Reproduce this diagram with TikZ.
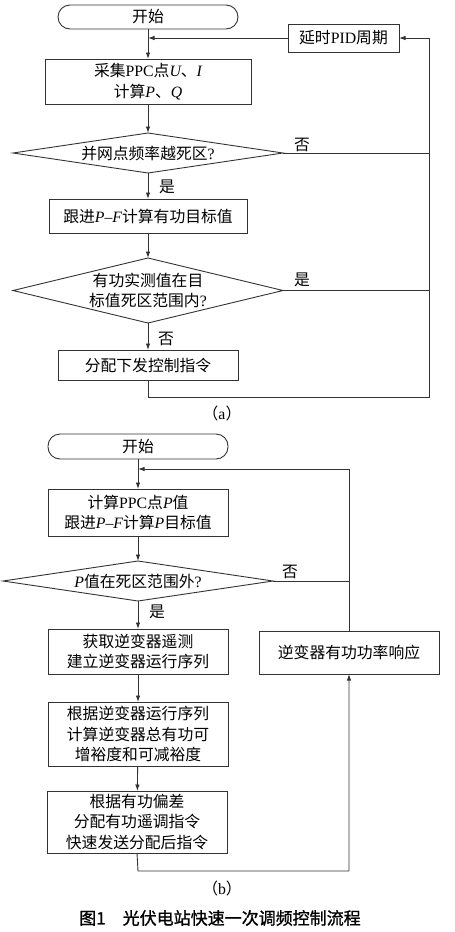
\documentclass[tikz,border=0pt]{standalone}
\usepackage{fontspec}
\usetikzlibrary{arrows.meta,shapes.geometric,calc}
\setmainfont{Noto Sans CJK SC}
\newfontfamily\latf{Liberation Serif}
\newfontfamily\capf[FakeBold=1.2]{Noto Sans CJK SC}
\newcommand\mi[1]{{\latf\itshape #1}}
\newcommand\tm[1]{{\latf #1}}
\begin{document}
\begin{tikzpicture}[x=1pt,y=-1pt,
  every node/.style={inner sep=0pt,outer sep=0pt,font=\fontsize{15.8}{20.5}\selectfont,text=black},
  procbox/.style={draw=black!80,line width=0.9pt,rectangle,align=center},
  termbox/.style={draw=black!80,line width=0.9pt,rectangle,rounded corners=12pt,minimum width=180pt,minimum height=24pt},
  decbox/.style={draw=black!80,line width=0.9pt,diamond,minimum width=270pt},
  dectext/.style={align=center},
  flow/.style={draw=black!80,line width=0.9pt},
  arr/.style={flow,-{Latex[length=6.5pt,width=4.5pt]}},
  lbl/.style={font=\fontsize{15.8}{18}\selectfont}
]
\useasboundingbox (0,0) rectangle (455,932);
% ---------------- (a) ----------------
\node[termbox] (sa) at (148,17) {开始};
\node[procbox,minimum width=206pt,minimum height=45pt] (a1) at (148,81.5) {采集\tm{PPC}点\mi{U}、\mi{I}\\计算\mi{P}、\mi{Q}};
\node[procbox,minimum width=111pt,minimum height=28pt] (ad) at (343.5,38) {延时\tm{PID}周期};
\node[decbox,minimum height=40pt] (d1) at (148,153) {};
\node[dectext] (t1) at (d1.center) {并网点频率越死区\tm{?}};
\node[procbox,minimum width=198pt,minimum height=34pt] (a2) at (148,216) {跟进\mi{P}\tm{–}\mi{F}计算有功目标值};
\node[decbox,minimum height=65pt] (d2) at (148,290.5) {};
\node[dectext] (t2) at (d2.center) {有功实测值在目\\标值死区范围内\tm{?}};
\node[procbox,minimum width=180pt,minimum height=30pt] (a3) at (148,365) {分配下发控制指令};
\coordinate (ra) at (429,38);
\coordinate (ja) at (148,38);
\coordinate (ba) at (148,397);
\node[lbl] (n1) at (302,145) {否};
\node[lbl] (y1) at (167,187) {是};
\node[lbl] (y2) at (302,280) {是};
\node[lbl] (n2) at (166,339) {否};
\node[lbl] (capa) at (222,413) {（\tm{a}）};

\draw[arr] (sa) -- (a1);
\draw[arr] (ad.west) -- (ja);
\draw[arr] (a1) -- (d1);
\draw[arr] (d1) -- (a2);
\draw[arr] (a2) -- (d2);
\draw[arr] (d2) -- (a3);
\draw[flow] (d1.east) -- (d1.east -| ra);
\draw[flow] (d2.east) -- (d2.east -| ra);
\draw[arr] (a3.south) -- (ba) -| (ra) -- (ad.east);

% ---------------- (b) ----------------
\node[termbox,minimum height=25pt] (sb) at (138,446.5) {开始};
\node[procbox,minimum width=180pt,minimum height=47pt] (b1) at (138,512.5) {计算\tm{PPC}点\mi{P}值\\跟进\mi{P}\tm{–}\mi{F}计算\mi{P}目标值};
\node[decbox,minimum height=40pt] (db) at (138,581) {};
\node[dectext] (t3) at (db.center) {\mi{P}值在死区范围外\tm{?}};
\node[procbox,minimum width=180pt,minimum height=45pt] (b2) at (138,651.5) {获取逆变器遥测\\建立逆变器运行序列};
\node[procbox,minimum width=180pt,minimum height=43pt] (bs) at (349,652.5) {逆变器有功功率响应};
\node[procbox,minimum width=180pt,minimum height=64pt] (b3) at (138,734) {根据逆变器运行序列\\计算逆变器总有功可\\增裕度和可减裕度};
\node[procbox,minimum width=180pt,minimum height=62pt] (b4) at (137,822) {根据有功偏差\\分配有功遥调指令\\快速发送分配后指令};
\coordinate (jb) at (138,469);
\coordinate (bb) at (138,871);
\node[lbl] (n3) at (290,572) {否};
\node[lbl] (y3) at (157,612) {是};
\node[lbl] (capb) at (222,888) {（\tm{b}）};

\draw[arr] (sb) -- (b1);
\draw[arr] (b1) -- (db);
\draw[arr] (db) -- (b2);
\draw[arr] (b2) -- (b3);
\draw[arr] (b3) -- (b4);
\draw[flow] (db.east) -- (db.east -| bs.north);
\draw[arr] (bs.north) -- (bs.north |- jb) -- (jb);
\draw[arr] (b4.south) -- (bb) -| (bs.south);

\node[font=\fontsize{17}{20}\selectfont\capf] (cap) at (220,918) {图1\hspace{1em}光伏电站快速一次调频控制流程};
\end{tikzpicture}
\end{document}
